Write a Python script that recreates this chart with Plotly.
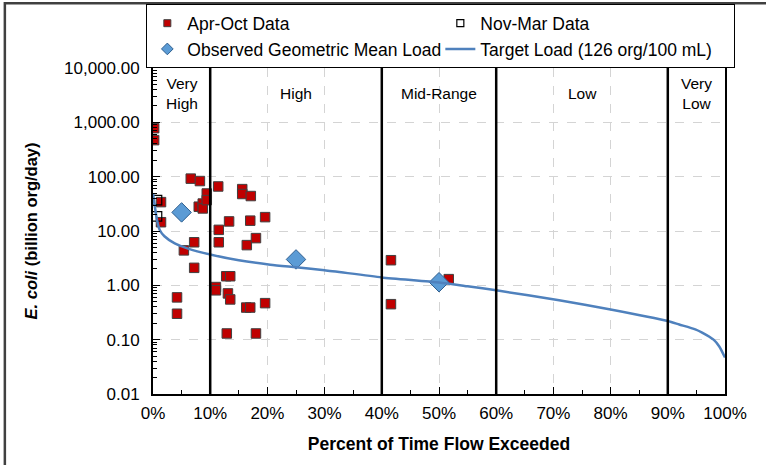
import plotly.graph_objects as go

# Load duration curve data (percent of time flow exceeded, E. coli load in billion org/day)
apr_oct_pct = [0.2, 0.2, 1.4, 1.4, 4.2, 4.2, 5.4, 6.6, 7.2, 7.2, 8.0, 8.2, 8.7, 8.7, 9.4, 9.4,
               11.0, 11.0, 11.4, 11.5, 11.5, 12.8, 13.5, 12.9, 13.1, 13.5, 13.3, 15.6, 15.6,
               16.3, 16.4, 17.0, 17.0, 17.1, 18.0, 18.0, 19.6, 19.6,
               41.6, 41.6, 51.7]
apr_oct_load = [780, 470, 34, 14.5, 0.6, 0.3, 4.4, 92, 6.2, 2.1, 28, 83, 32, 26, 49, 37,
                0.93, 0.81, 66, 10.5, 6.2, 1.47, 1.47, 0.13, 0.71, 0.55, 15, 59, 48,
                0.39, 5.5, 0.39, 15.5, 44, 7.4, 0.13, 18, 0.47,
                2.9, 0.45, 1.3]

nov_mar_pct = [0.7, 0.7]
nov_mar_load = [37, 18.6]

geomean_pct = [5, 25, 50]
geomean_load = [22, 3.0, 1.14]

target_pct = [0, 0.7, 1.2, 2, 3.8, 6, 10, 15, 20.5, 25, 30, 40, 50, 55, 60, 71, 80, 90,
              92, 94.8, 96, 98, 99, 100]
target_load = [49, 16, 10.3, 8.0, 5.9, 4.8, 3.7, 2.9, 2.4, 2.15, 1.9, 1.4, 1.13, 0.96, 0.81,
               0.53, 0.36, 0.22, 0.19, 0.155, 0.135, 0.10, 0.075, 0.047]

zone_bounds = [10, 40, 60, 90]
zone_names = ["Very<br>High", "High", "Mid-Range", "Low", "Very<br>Low"]
zone_centers = [5, 25, 50, 75, 95]

y_tickvals = [0.01, 0.1, 1, 10, 100, 1000, 10000]
y_ticktext = ["0.01", "0.10", "1.00", "10.00", "100.00", "1,000.00", "10,000.00"]
y_minor_vals = [m * 10 ** e for e in range(-2, 4) for m in range(2, 10)]

FONT = "Liberation Sans, Arial, sans-serif"

RED = dict(symbol="square", color="#c00000", line=dict(color="#404040", width=1))
OPEN = dict(symbol="square-open", color="#000000", line=dict(color="#000000", width=1.2))
DIAM = dict(symbol="diamond", color="#5b9bd5", line=dict(color="#2f5f8f", width=1))
LINE = dict(color="#4f81bd", width=2.5)

fig = go.Figure()

fig.add_trace(go.Scatter(x=apr_oct_pct, y=apr_oct_load, mode="markers",
                         marker=dict(size=9.5, **RED), showlegend=False))
fig.add_trace(go.Scatter(x=nov_mar_pct, y=nov_mar_load, mode="markers",
                         marker=dict(size=9.5, **OPEN), showlegend=False))
fig.add_trace(go.Scatter(x=geomean_pct, y=geomean_load, mode="markers",
                         marker=dict(size=15, **DIAM), showlegend=False))
fig.add_trace(go.Scatter(x=target_pct, y=target_load, mode="lines", showlegend=False,
                         line=dict(shape="spline", smoothing=0.6, **LINE)))

# Legend entries with compact symbols
fig.add_trace(go.Scatter(x=[None], y=[None], mode="markers", name="Apr-Oct Data",
                         marker=dict(size=7, **RED)))
fig.add_trace(go.Scatter(x=[None], y=[None], mode="markers", name="Nov-Mar Data",
                         marker=dict(size=7, **OPEN)))
fig.add_trace(go.Scatter(x=[None], y=[None], mode="markers",
                         name="Observed Geometric Mean Load", marker=dict(size=9, **DIAM)))
fig.add_trace(go.Scatter(x=[None], y=[None], mode="lines",
                         name="Target Load (126 org/100 mL)", line=LINE))

# Minor log ticks on the load axis
fig.add_trace(go.Scatter(x=[None], y=[None], yaxis="y2", showlegend=False))

# Flow zone boundaries
for b in zone_bounds:
    fig.add_shape(type="line", xref="x", yref="paper", x0=b, x1=b, y0=0, y1=1,
                  line=dict(color="black", width=2.5))

# Flow zone labels
for name, cx in zip(zone_names, zone_centers):
    fig.add_annotation(x=cx, xref="x", y=0.922, yref="paper", text=name,
                       showarrow=False, yanchor="middle",
                       font=dict(family=FONT, size=15.5, color="#000000"))

# Outer chart frame (left and top edges visible)
fig.add_shape(type="rect", xref="paper", yref="paper",
              x0=-0.259, x1=1.3, y0=-0.5, y1=1.199,
              line=dict(color="#404040", width=2.5), layer="below")

fig.update_layout(
    width=766, height=465,
    margin=dict(l=153, r=41, t=68, b=71, autoexpand=False),
    paper_bgcolor="white", plot_bgcolor="white",
    font=dict(family=FONT, color="#000000"),
    showlegend=True,
    legend=dict(orientation="h", x=-0.012, xanchor="left", y=1.196, yanchor="top",
                bgcolor="white", bordercolor="#000000", borderwidth=1.2,
                font=dict(family=FONT, size=17.5), entrywidth=248,
                tracegroupgap=0, itemwidth=30),
    xaxis=dict(range=[0, 100], dtick=10, ticksuffix="%", ticks="inside", ticklen=7,
               tickcolor="black", showline=True, linecolor="black", linewidth=1.8,
               mirror=True, showgrid=True, gridcolor="#d4d4d4", griddash="dash",
               gridwidth=1, zeroline=False, ticklabelstandoff=3,
               tickfont=dict(family=FONT, size=17),
               minor=dict(dtick=5, ticks="inside", ticklen=4, tickcolor="black",
                          showgrid=False),
               title=dict(text="<b>Percent of Time Flow Exceeded</b>",
                          font=dict(family=FONT, size=17.5), standoff=15)),
    yaxis=dict(type="log", range=[-2, 4], tickvals=y_tickvals, ticktext=y_ticktext,
               ticks="inside", ticklen=7, tickcolor="black", showline=True,
               linecolor="black", linewidth=1.8, mirror=True, showgrid=True,
               gridcolor="#d4d4d4", griddash="dash", gridwidth=1, zeroline=False,
               tickfont=dict(family=FONT, size=17), ticklabelstandoff=8,
               title=dict(text="<b><i>E. coli</i> (billion org/day)</b>",
                          font=dict(family=FONT, size=16.5), standoff=22)),
    yaxis2=dict(type="log", range=[-2, 4], overlaying="y", side="left",
                tickvals=y_minor_vals, ticks="inside", ticklen=4, tickcolor="black",
                showticklabels=False, showgrid=False, zeroline=False, showline=False),
)

fig.write_html("out.html")
